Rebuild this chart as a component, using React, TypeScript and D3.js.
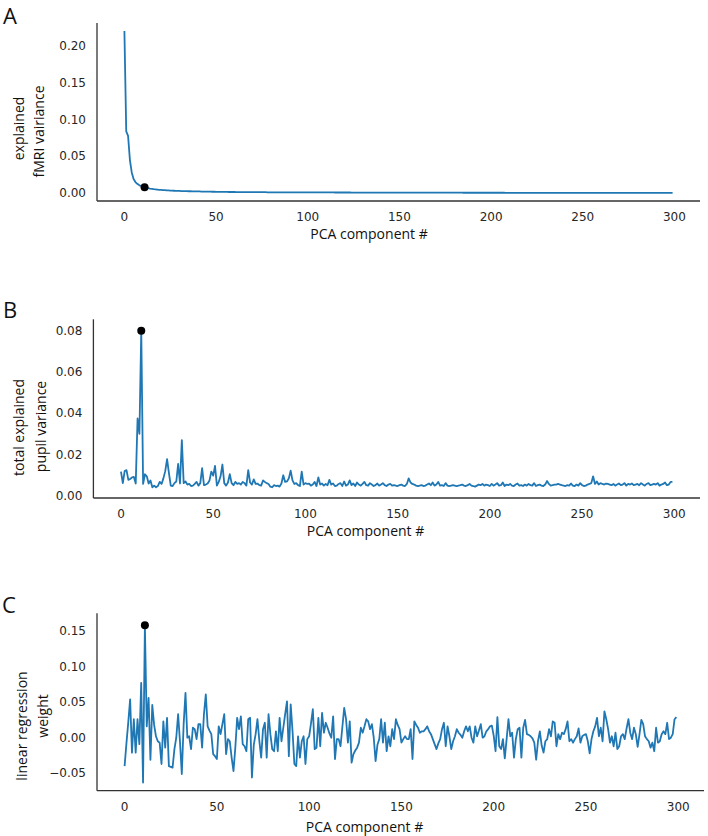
import React from 'react';
import * as d3 from 'd3';

// ---------- data ----------
const fmriVariance = [
  0.221, 0.084, 0.078, 0.045, 0.028, 0.019, 0.015, 0.0125, 0.0108, 0.0096,
  0.0086, 0.0079, 0.0072, 0.0066, 0.0061, 0.0057, 0.0053, 0.005, 0.0047, 0.0044,
  0.0042, 0.004, 0.0038, 0.0036, 0.0035, 0.0033, 0.0032, 0.0031, 0.003, 0.0029,
  0.0028, 0.0027, 0.0026, 0.0026, 0.0025, 0.0024, 0.0024, 0.0023, 0.0022, 0.0022,
  0.0021, 0.0021, 0.002, 0.002, 0.0019, 0.0019, 0.0018, 0.0018, 0.0017, 0.0017,
  0.0016, 0.0016, 0.0016, 0.0015, 0.0015, 0.0015, 0.0015, 0.0014, 0.0014, 0.0014,
  0.0014, 0.0013, 0.0013, 0.0013, 0.0013, 0.0013, 0.0012, 0.0012, 0.0012, 0.0012,
  0.0012, 0.0012, 0.0011, 0.0011, 0.0011, 0.0011, 0.0011, 0.0011, 0.001, 0.001,
  0.001, 0.001, 0.001, 0.001, 0.001, 0.001, 0.001, 0.00095, 0.00095, 0.00095,
  0.00095, 0.0009, 0.0009, 0.0009, 0.0009, 0.0009, 0.00088, 0.00088, 0.00086, 0.00086,
  0.00085, 0.00084, 0.00083, 0.00082, 0.00081, 0.0008, 0.0008, 0.00079, 0.00078, 0.00077,
  0.00076, 0.00075, 0.00075, 0.00074, 0.00073, 0.00072, 0.00072, 0.00071, 0.0007, 0.0007,
  0.00069, 0.00068, 0.00068, 0.00067, 0.00066, 0.00066, 0.00065, 0.00064, 0.00064, 0.00063,
  0.00062, 0.00062, 0.00061, 0.00061, 0.0006, 0.0006, 0.00059, 0.00058, 0.00058, 0.00057,
  0.00057, 0.00056, 0.00056, 0.00055, 0.00055, 0.00054, 0.00054, 0.00053, 0.00053, 0.00052,
  0.00052, 0.00051, 0.00051, 0.0005, 0.0005, 0.0005, 0.00049, 0.00049, 0.00048, 0.00048,
  0.00047, 0.00047, 0.00047, 0.00046, 0.00046, 0.00045, 0.00045, 0.00045, 0.00044, 0.00044,
  0.00044, 0.00043, 0.00043, 0.00042, 0.00042, 0.00042, 0.00041, 0.00041, 0.00041, 0.0004,
  0.0004, 0.0004, 0.00039, 0.00039, 0.00039, 0.00038, 0.00038, 0.00038, 0.00037, 0.00037,
  0.00037, 0.00036, 0.00036, 0.00036, 0.00035, 0.00035, 0.00035, 0.00035, 0.00034, 0.00034,
  0.00034, 0.00033, 0.00033, 0.00033, 0.00033, 0.00032, 0.00032, 0.00032, 0.00031, 0.00031,
  0.00031, 0.00031, 0.0003, 0.0003, 0.0003, 0.0003, 0.00029, 0.00029, 0.00029, 0.00029,
  0.00028, 0.00028, 0.00028, 0.00028, 0.00027, 0.00027, 0.00027, 0.00027, 0.00026, 0.00026,
  0.00026, 0.00026, 0.00025, 0.00025, 0.00025, 0.00025, 0.00024, 0.00024, 0.00024, 0.00024,
  0.00023, 0.00023, 0.00023, 0.00023, 0.00022, 0.00022, 0.00022, 0.00022, 0.00021, 0.00021,
  0.00021, 0.00021, 0.0002, 0.0002, 0.0002, 0.0002, 0.00019, 0.00019, 0.00019, 0.00019,
  0.00018, 0.00018, 0.00018, 0.00018, 0.00017, 0.00017, 0.00017, 0.00017, 0.00016, 0.00016,
  0.00016, 0.00016, 0.00015, 0.00015, 0.00015, 0.00015, 0.00014, 0.00014, 0.00014, 0.00014,
  0.00013, 0.00013, 0.00013, 0.00013, 0.00012, 0.00012, 0.00012, 0.00012, 0.00011, 0.00011,
  0.00011, 0.00011, 0.0001, 0.0001, 0.0001, 0.0001, 0.0001, 0.0001, 0.0001, 0.0001,
];

const pupilVariance = [
  0.0118, 0.0062, 0.012, 0.0125, 0.0078, 0.0082, 0.009, 0.0092, 0.006, 0.0375,
  0.03, 0.08, 0.0058, 0.0105, 0.0095, 0.006, 0.0075, 0.0042, 0.005, 0.0042,
  0.0048, 0.0068, 0.0058, 0.0085, 0.012, 0.0178, 0.011, 0.005, 0.0048, 0.0062,
  0.007, 0.0155, 0.006, 0.027, 0.0062, 0.007, 0.0055, 0.0058, 0.0048, 0.005,
  0.0058, 0.0068, 0.005, 0.0062, 0.0135, 0.0052, 0.0055, 0.006, 0.0075, 0.0118,
  0.0098, 0.0145, 0.005, 0.0068, 0.0095, 0.0152, 0.0062, 0.005, 0.0065, 0.0105,
  0.0062, 0.0052, 0.0068, 0.0058, 0.0062, 0.0055, 0.0068, 0.0062, 0.005, 0.0125,
  0.0065, 0.0055, 0.008, 0.0058, 0.006, 0.0052, 0.005, 0.0075, 0.0068, 0.0062,
  0.0058, 0.0045, 0.0042, 0.0052, 0.0048, 0.005, 0.0045, 0.006, 0.01, 0.0068,
  0.007, 0.0085, 0.0122, 0.0075, 0.0058, 0.0062, 0.0052, 0.0048, 0.0118, 0.0055,
  0.0062, 0.0058, 0.006, 0.005, 0.0055, 0.0068, 0.0048, 0.009, 0.0055, 0.006,
  0.005, 0.0058, 0.0052, 0.0078, 0.0055, 0.006, 0.0048, 0.005, 0.0058, 0.0062,
  0.0048, 0.007, 0.005, 0.0055, 0.0075, 0.0052, 0.006, 0.0048, 0.0065, 0.0055,
  0.005, 0.0058, 0.0068, 0.0052, 0.005, 0.0062, 0.0055, 0.0048, 0.0052, 0.006,
  0.005, 0.0055, 0.0062, 0.0052, 0.0048, 0.0055, 0.0058, 0.005, 0.0052, 0.005,
  0.0048, 0.0052, 0.0055, 0.005, 0.0048, 0.0058, 0.0085, 0.0065, 0.0058, 0.0055,
  0.005, 0.0048, 0.005, 0.0052, 0.0048, 0.005, 0.0055, 0.006, 0.0052, 0.0065,
  0.005, 0.0055, 0.0068, 0.005, 0.0052, 0.0048, 0.0062, 0.005, 0.0048, 0.005,
  0.0052, 0.005, 0.0048, 0.005, 0.0052, 0.0055, 0.005, 0.0048, 0.0052, 0.0058,
  0.005, 0.0048, 0.0045, 0.005, 0.0055, 0.0052, 0.0058, 0.005, 0.0055, 0.0052,
  0.0048, 0.0058, 0.005, 0.0055, 0.0062, 0.005, 0.0052, 0.0065, 0.0048, 0.0055,
  0.0052, 0.0058, 0.005, 0.0048, 0.0055, 0.006, 0.005, 0.0052, 0.0048, 0.0055,
  0.005, 0.0058, 0.0052, 0.005, 0.0062, 0.0048, 0.0052, 0.0055, 0.005, 0.0048,
  0.0055, 0.0072, 0.0058, 0.005, 0.0052, 0.0055, 0.0055, 0.0058, 0.0055, 0.0052,
  0.005, 0.0048, 0.0052, 0.005, 0.006, 0.005, 0.0048, 0.0055, 0.005, 0.0062,
  0.0052, 0.0048, 0.005, 0.0055, 0.0058, 0.0062, 0.0095, 0.0058, 0.007, 0.0055,
  0.0062, 0.0058, 0.0055, 0.006, 0.0058, 0.0055, 0.0052, 0.0058, 0.005, 0.0055,
  0.006, 0.0052, 0.0055, 0.0062, 0.005, 0.0058, 0.0055, 0.006, 0.0052, 0.0055,
  0.0058, 0.0052, 0.0062, 0.0055, 0.005, 0.0058, 0.0062, 0.0052, 0.0055, 0.0058,
  0.0055, 0.0062, 0.005, 0.0055, 0.0058, 0.0065, 0.0052, 0.0055, 0.0068, 0.0068,
];

const regressionWeight = [
  -0.04, -0.008, 0.022, 0.054, -0.021, 0.026, -0.021, 0.026, -0.009, 0.077,
  -0.063, 0.158, 0.016, 0.056, -0.031, 0.046, 0.018, 0.002, -0.005, -0.007,
  -0.037, 0.023, -0.014, 0.028, -0.04, -0.041, -0.042, -0.016, 0.0, 0.033,
  -0.005, -0.051, 0.019, 0.063, 0.0, 0.002, -0.016, 0.014, 0.012, -0.002,
  0.019, 0.019, -0.014, 0.033, 0.061, 0.016, 0.01, 0.005, -0.023, -0.026,
  -0.03, 0.016, 0.005, 0.019, 0.033, -0.023, -0.002, -0.005, -0.028, -0.047,
  -0.014, 0.028, 0.012, 0.03, -0.009, -0.012, -0.019, 0.026, 0.028, -0.056,
  -0.01, 0.005, 0.026, -0.004, -0.028, 0.012, 0.021, -0.028, 0.033, 0.005,
  -0.016, -0.019, 0.009, -0.019, 0.028, -0.005, 0.014, 0.033, 0.051, -0.026,
  0.047, 0.009, -0.037, -0.04, 0.002, -0.028, -0.005, 0.002, -0.037, -0.002,
  0.002, 0.02, 0.04, -0.016, -0.014, 0.028, -0.012, 0.035, 0.007, 0.021,
  0.014, 0.006, 0.0, 0.03, -0.03, -0.002, -0.002, -0.012, 0.015, 0.042,
  0.026, -0.007, 0.023, -0.035, -0.023, -0.018, -0.014, -0.007, 0.014, 0.007,
  0.016, 0.026, 0.023, 0.012, 0.019, 0.0, -0.033, -0.01, -0.002, 0.026,
  -0.007, 0.021, -0.019, 0.002, -0.012, 0.012, -0.002, 0.026, 0.018, 0.012,
  -0.007, -0.002, 0.002, -0.002, -0.002, 0.012, -0.03, 0.023, 0.018, 0.014,
  0.007, 0.009, 0.009, 0.012, 0.016, 0.009, 0.005, -0.002, -0.009, -0.016,
  -0.008, -0.002, 0.012, 0.021, -0.012, 0.016, 0.002, -0.016, -0.005, 0.002,
  0.012, 0.007, 0.004, 0.0, 0.009, 0.016, 0.009, 0.016, 0.0, -0.007,
  0.016, 0.002, 0.01, 0.019, 0.0, 0.002, 0.009, 0.012, 0.016, 0.017,
  0.003, -0.019, 0.029, -0.012, -0.016, -0.002, -0.029, -0.002, 0.026, 0.002,
  0.007, -0.028, -0.002, 0.012, 0.014, -0.028, 0.014, 0.025, 0.005, 0.004,
  0.002, -0.001, -0.007, -0.031, -0.005, 0.009, -0.011, -0.021, -0.005, -0.002,
  0.012, 0.002, 0.023, 0.021, -0.012, 0.005, -0.002, 0.007, 0.005, 0.012,
  0.023, -0.005, -0.002, -0.007, -0.002, 0.002, 0.013, -0.007, 0.002, 0.004,
  0.005, -0.005, -0.022, -0.002, 0.009, 0.016, 0.028, 0.002, 0.014, -0.005,
  0.037, 0.026, 0.012, -0.007, 0.002, -0.012, 0.007, -0.016, -0.012, 0.002,
  0.005, -0.002, 0.013, 0.026, 0.007, -0.002, 0.014, 0.005, -0.013, 0.005,
  0.025, 0.019, 0.002, -0.002, -0.005, -0.014, -0.007, -0.019, 0.014, -0.007,
  -0.005, 0.005, 0.009, 0.005, 0.021, -0.002, 0.0, 0.005, 0.026, 0.029,
];

const xTickValues = [0, 50, 100, 150, 200, 250, 300];
const yTicksA = [0, 0.05, 0.1, 0.15, 0.2];
const yTicksB = [0, 0.02, 0.04, 0.06, 0.08];
const yTicksC = [-0.05, 0, 0.05, 0.1, 0.15];
const selectedComponent = 11;
const xAxisTitle = 'PCA component #';
const panelLetters = ['A', 'B', 'C'];
const yTitlesA = ['explained', 'fMRI vairiance'];
const yTitlesB = ['total explained', 'pupil variance'];
const yTitlesC = ['linear regression', 'weight'];

// ---------- drawing ----------
const LINE = '#1f77b4';
const SPINE = '#333333';
const TEXT = '#262626';
const TICK_FONT = '"DejaVu Sans", sans-serif';
const LABEL_FONT = '"Open Sans", sans-serif';
const X_DOMAIN: [number, number] = [-14.95, 313.95];

type Box = { left: number; right: number; top: number; bottom: number };
type Pos = { x: number; y: number };

interface PanelProps {
  data: number[];
  letter: string;
  letterPos: Pos;
  yTicks: number[];
  yDomain: [number, number];
  box: Box;
  yTitles: string[];
  yTitlePos: Pos[];
  xTitlePos: Pos;
}

function Panel({ data, letter, letterPos, yTicks, yDomain, box, yTitles, yTitlePos, xTitlePos }: PanelProps) {
  const x = d3.scaleLinear().domain(X_DOMAIN).range([box.left, box.right]);
  const y = d3.scaleLinear().domain(yDomain).range([box.bottom, box.top]);
  const line = d3
    .line<number>()
    .x((_, i) => x(i))
    .y((d) => y(d));
  const fmt = d3.format('.2f');
  const sel = data[selectedComponent];
  return (
    <g>
      <text x={letterPos.x} y={letterPos.y} fontFamily={LABEL_FONT} fontSize={22} fill="#111">
        {letter}
      </text>
      <path d={line(data) ?? ''} fill="none" stroke={LINE} strokeWidth={1.8} strokeLinejoin="round" />
      <circle cx={x(selectedComponent)} cy={y(sel)} r={4} fill="#000" />
      <line x1={box.left} x2={box.left} y1={box.top} y2={box.bottom} stroke={SPINE} strokeWidth={1.3} />
      <line x1={box.left} x2={box.right} y1={box.bottom} y2={box.bottom} stroke={SPINE} strokeWidth={1.3} />
      {yTicks.map((t) => (
        <text
          key={'y' + t}
          x={box.left - 11}
          y={y(t)}
          textAnchor="end"
          dominantBaseline="central"
          fontFamily={TICK_FONT}
          fontSize={12}
          fill={TEXT}
        >
          {fmt(t)}
        </text>
      ))}
      {xTickValues.map((t) => (
        <text
          key={'x' + t}
          x={x(t)}
          y={box.bottom + 16}
          textAnchor="middle"
          dominantBaseline="central"
          fontFamily={TICK_FONT}
          fontSize={12}
          fill={TEXT}
        >
          {t}
        </text>
      ))}
      <text x={xTitlePos.x} y={xTitlePos.y} textAnchor="middle" fontFamily={LABEL_FONT} fontSize={14} fill="#111">
        {xAxisTitle}
      </text>
      {yTitles.map((s, i) => (
        <text
          key={s}
          transform={`translate(${yTitlePos[i].x},${yTitlePos[i].y}) rotate(-90)`}
          textAnchor="middle"
          fontFamily={LABEL_FONT}
          fontSize={14}
          fill="#111"
        >
          {s}
        </text>
      ))}
    </g>
  );
}

export default function App() {
  return (
    <svg
      width={708}
      height={836}
      viewBox="0 0 708 836"
      style={{ position: 'absolute', left: 0, top: 0, background: '#fff' }}
    >
      <rect width={708} height={836} fill="#fff" />
      <Panel
        data={fmriVariance}
        letter={panelLetters[0]}
        letterPos={{ x: 3, y: 24 }}
        yTicks={yTicksA}
        yDomain={[-0.0109, 0.2319]}
        box={{ left: 97, right: 700, top: 23, bottom: 201 }}
        yTitles={yTitlesA}
        yTitlePos={[{ x: 23.5, y: 128.5 }, { x: 44, y: 131.5 }]}
        xTitlePos={{ x: 369, y: 239 }}
      />
      <Panel
        data={pupilVariance}
        letter={panelLetters[1]}
        letterPos={{ x: 3, y: 318 }}
        yTicks={yTicksB}
        yDomain={[-0.001, 0.0855]}
        box={{ left: 93.4, right: 700, top: 319.3, bottom: 498 }}
        yTitles={yTitlesB}
        yTitlePos={[{ x: 23.5, y: 427.5 }, { x: 45.5, y: 426.5 }]}
        xTitlePos={{ x: 365.5, y: 535.5 }}
      />
      <Panel
        data={regressionWeight}
        letter={panelLetters[2]}
        letterPos={{ x: 2, y: 613 }}
        yTicks={yTicksC}
        yDomain={[-0.0745, 0.1749]}
        box={{ left: 97, right: 704, top: 613.3, bottom: 790.7 }}
        yTitles={yTitlesC}
        yTitlePos={[{ x: 27, y: 726 }, { x: 47.5, y: 716 }]}
        xTitlePos={{ x: 364.5, y: 832 }}
      />
    </svg>
  );
}
